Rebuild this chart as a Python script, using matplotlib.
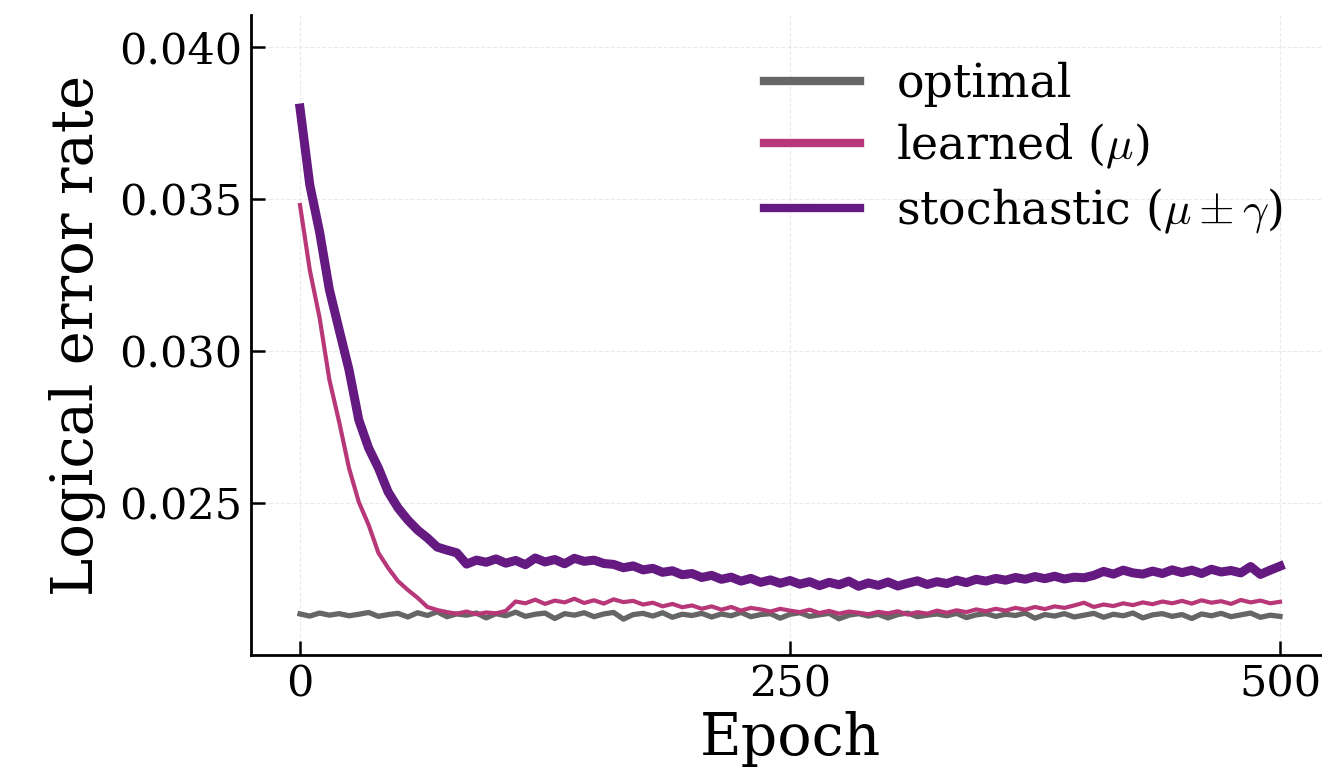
import numpy as np
import matplotlib
matplotlib.use("Agg")
import matplotlib.pyplot as plt

plt.rcParams['font.family'] = ['DejaVu Serif']
plt.rcParams['mathtext.fontset'] = 'cm'

epochs = list(range(0, 501, 5))

optimal = [0.02135, 0.02128, 0.02138, 0.02131, 0.02136, 0.02129, 0.02134, 0.02140, 0.02127, 0.02133,
           0.02137, 0.02125, 0.02139, 0.02130, 0.02142, 0.02126, 0.02135, 0.02131, 0.02138, 0.02122,
           0.02136, 0.02129, 0.02141, 0.02127, 0.02134, 0.02138, 0.02120, 0.02136, 0.02131, 0.02139,
           0.02126, 0.02135, 0.02140, 0.02118, 0.02133, 0.02137, 0.02128, 0.02139, 0.02124, 0.02134,
           0.02130, 0.02137, 0.02125, 0.02135, 0.02129, 0.02140, 0.02126, 0.02133, 0.02136, 0.02121,
           0.02134, 0.02139, 0.02127, 0.02132, 0.02137, 0.02119, 0.02131, 0.02136, 0.02128, 0.02134,
           0.02122, 0.02133, 0.02138, 0.02126, 0.02131, 0.02135, 0.02129, 0.02137, 0.02123, 0.02132,
           0.02136, 0.02127, 0.02134, 0.02130, 0.02138, 0.02121, 0.02133, 0.02128, 0.02136, 0.02125,
           0.02131, 0.02137, 0.02124, 0.02134, 0.02129, 0.02138, 0.02122, 0.02132, 0.02136, 0.02127,
           0.02133, 0.02120, 0.02135, 0.02129, 0.02137, 0.02126, 0.02132, 0.02138, 0.02124, 0.02131,
           0.02127]

learned = [0.03480, 0.03266, 0.03109, 0.02905, 0.02766, 0.02615, 0.02503, 0.02428, 0.02336, 0.02286,
           0.02243, 0.02214, 0.02188, 0.02158, 0.02148, 0.02141, 0.02136, 0.02143, 0.02134, 0.02140,
           0.02137, 0.02145, 0.02176, 0.02170, 0.02182, 0.02168, 0.02179, 0.02173, 0.02185, 0.02171,
           0.02180, 0.02169, 0.02183, 0.02174, 0.02178, 0.02166, 0.02172, 0.02160, 0.02168, 0.02157,
           0.02163, 0.02152, 0.02160, 0.02149, 0.02158, 0.02146, 0.02155, 0.02150, 0.02143, 0.02152,
           0.02146, 0.02141, 0.02149, 0.02138, 0.02145, 0.02136, 0.02143, 0.02139, 0.02134, 0.02142,
           0.02137, 0.02144, 0.02133, 0.02141, 0.02136, 0.02146, 0.02139, 0.02147, 0.02141, 0.02150,
           0.02144, 0.02152, 0.02146, 0.02155, 0.02149, 0.02158, 0.02151, 0.02160, 0.02155, 0.02163,
           0.02172, 0.02158, 0.02166, 0.02161, 0.02170, 0.02164, 0.02173, 0.02167, 0.02176, 0.02170,
           0.02178, 0.02169, 0.02180, 0.02172, 0.02177, 0.02168, 0.02181, 0.02173, 0.02179, 0.02170,
           0.02175]

stochastic = [0.03799, 0.03546, 0.03391, 0.03201, 0.03069, 0.02938, 0.02773, 0.02681, 0.02615, 0.02536,
              0.02484, 0.02444, 0.02411, 0.02385, 0.02355, 0.02345, 0.02336, 0.02299, 0.02312, 0.02305,
              0.02316, 0.02302, 0.02311, 0.02297, 0.02319, 0.02306, 0.02314, 0.02300, 0.02318, 0.02308,
              0.02312, 0.02301, 0.02298, 0.02287, 0.02293, 0.02280, 0.02285, 0.02272, 0.02277, 0.02264,
              0.02268, 0.02255, 0.02262, 0.02249, 0.02256, 0.02243, 0.02252, 0.02239, 0.02247, 0.02236,
              0.02245, 0.02233, 0.02241, 0.02228, 0.02239, 0.02231, 0.02243, 0.02226, 0.02237, 0.02229,
              0.02240, 0.02227, 0.02236, 0.02244, 0.02232, 0.02241, 0.02235, 0.02246, 0.02238, 0.02249,
              0.02243, 0.02252, 0.02246, 0.02255, 0.02249, 0.02258, 0.02251, 0.02259, 0.02250, 0.02256,
              0.02254, 0.02262, 0.02275, 0.02266, 0.02279, 0.02270, 0.02266, 0.02276, 0.02268, 0.02280,
              0.02271, 0.02279, 0.02268, 0.02282, 0.02273, 0.02278, 0.02270, 0.02291, 0.02265, 0.02279,
              0.02292]

labels = ["optimal", r"learned ($\mu$)", r"stochastic ($\mu \pm \gamma$)"]
xticks = [0, 250, 500]
yticks = [0.025, 0.030, 0.035, 0.040]

fig = plt.figure(figsize=(13.22, 7.70), dpi=100)
ax = fig.add_axes([251/1322, 1 - 655/770, 1078/1322, 640/770])

ax.plot(epochs, optimal, color="#666666", lw=3.8, label=labels[0])
ax.plot(epochs, learned, color="#b73779", lw=3.0, label=labels[1])
ax.plot(epochs, stochastic, color="#641a80", lw=6.5, label=labels[2])

ax.set_xlim(-25, 525)
ax.set_ylim(0.020, 0.04105)
ax.set_xticks(xticks)
ax.set_yticks(yticks)
ax.set_yticklabels([f"{v:.3f}" for v in yticks])
ax.tick_params(direction="in", length=10, width=1.8, labelsize=31, pad=6)
ax.grid(True, color="#dddddd", linestyle="--", linewidth=0.8, alpha=0.6)
for s in ["top", "right"]:
    ax.spines[s].set_visible(False)
for s in ["left", "bottom"]:
    ax.spines[s].set_linewidth(2.0)

ax.set_xlabel("Epoch", fontsize=41, labelpad=4)
ax.set_ylabel("Logical error rate", fontsize=41.5, labelpad=10)

leg = ax.legend(loc="upper right", bbox_to_anchor=(0.9953, 0.992), frameon=False, fontsize=33,
                handlelength=2.1, labelspacing=0.33, handletextpad=0.8)
for line in leg.get_lines():
    line.set_linewidth(6.0)

fig.savefig("out.png", dpi=100)
